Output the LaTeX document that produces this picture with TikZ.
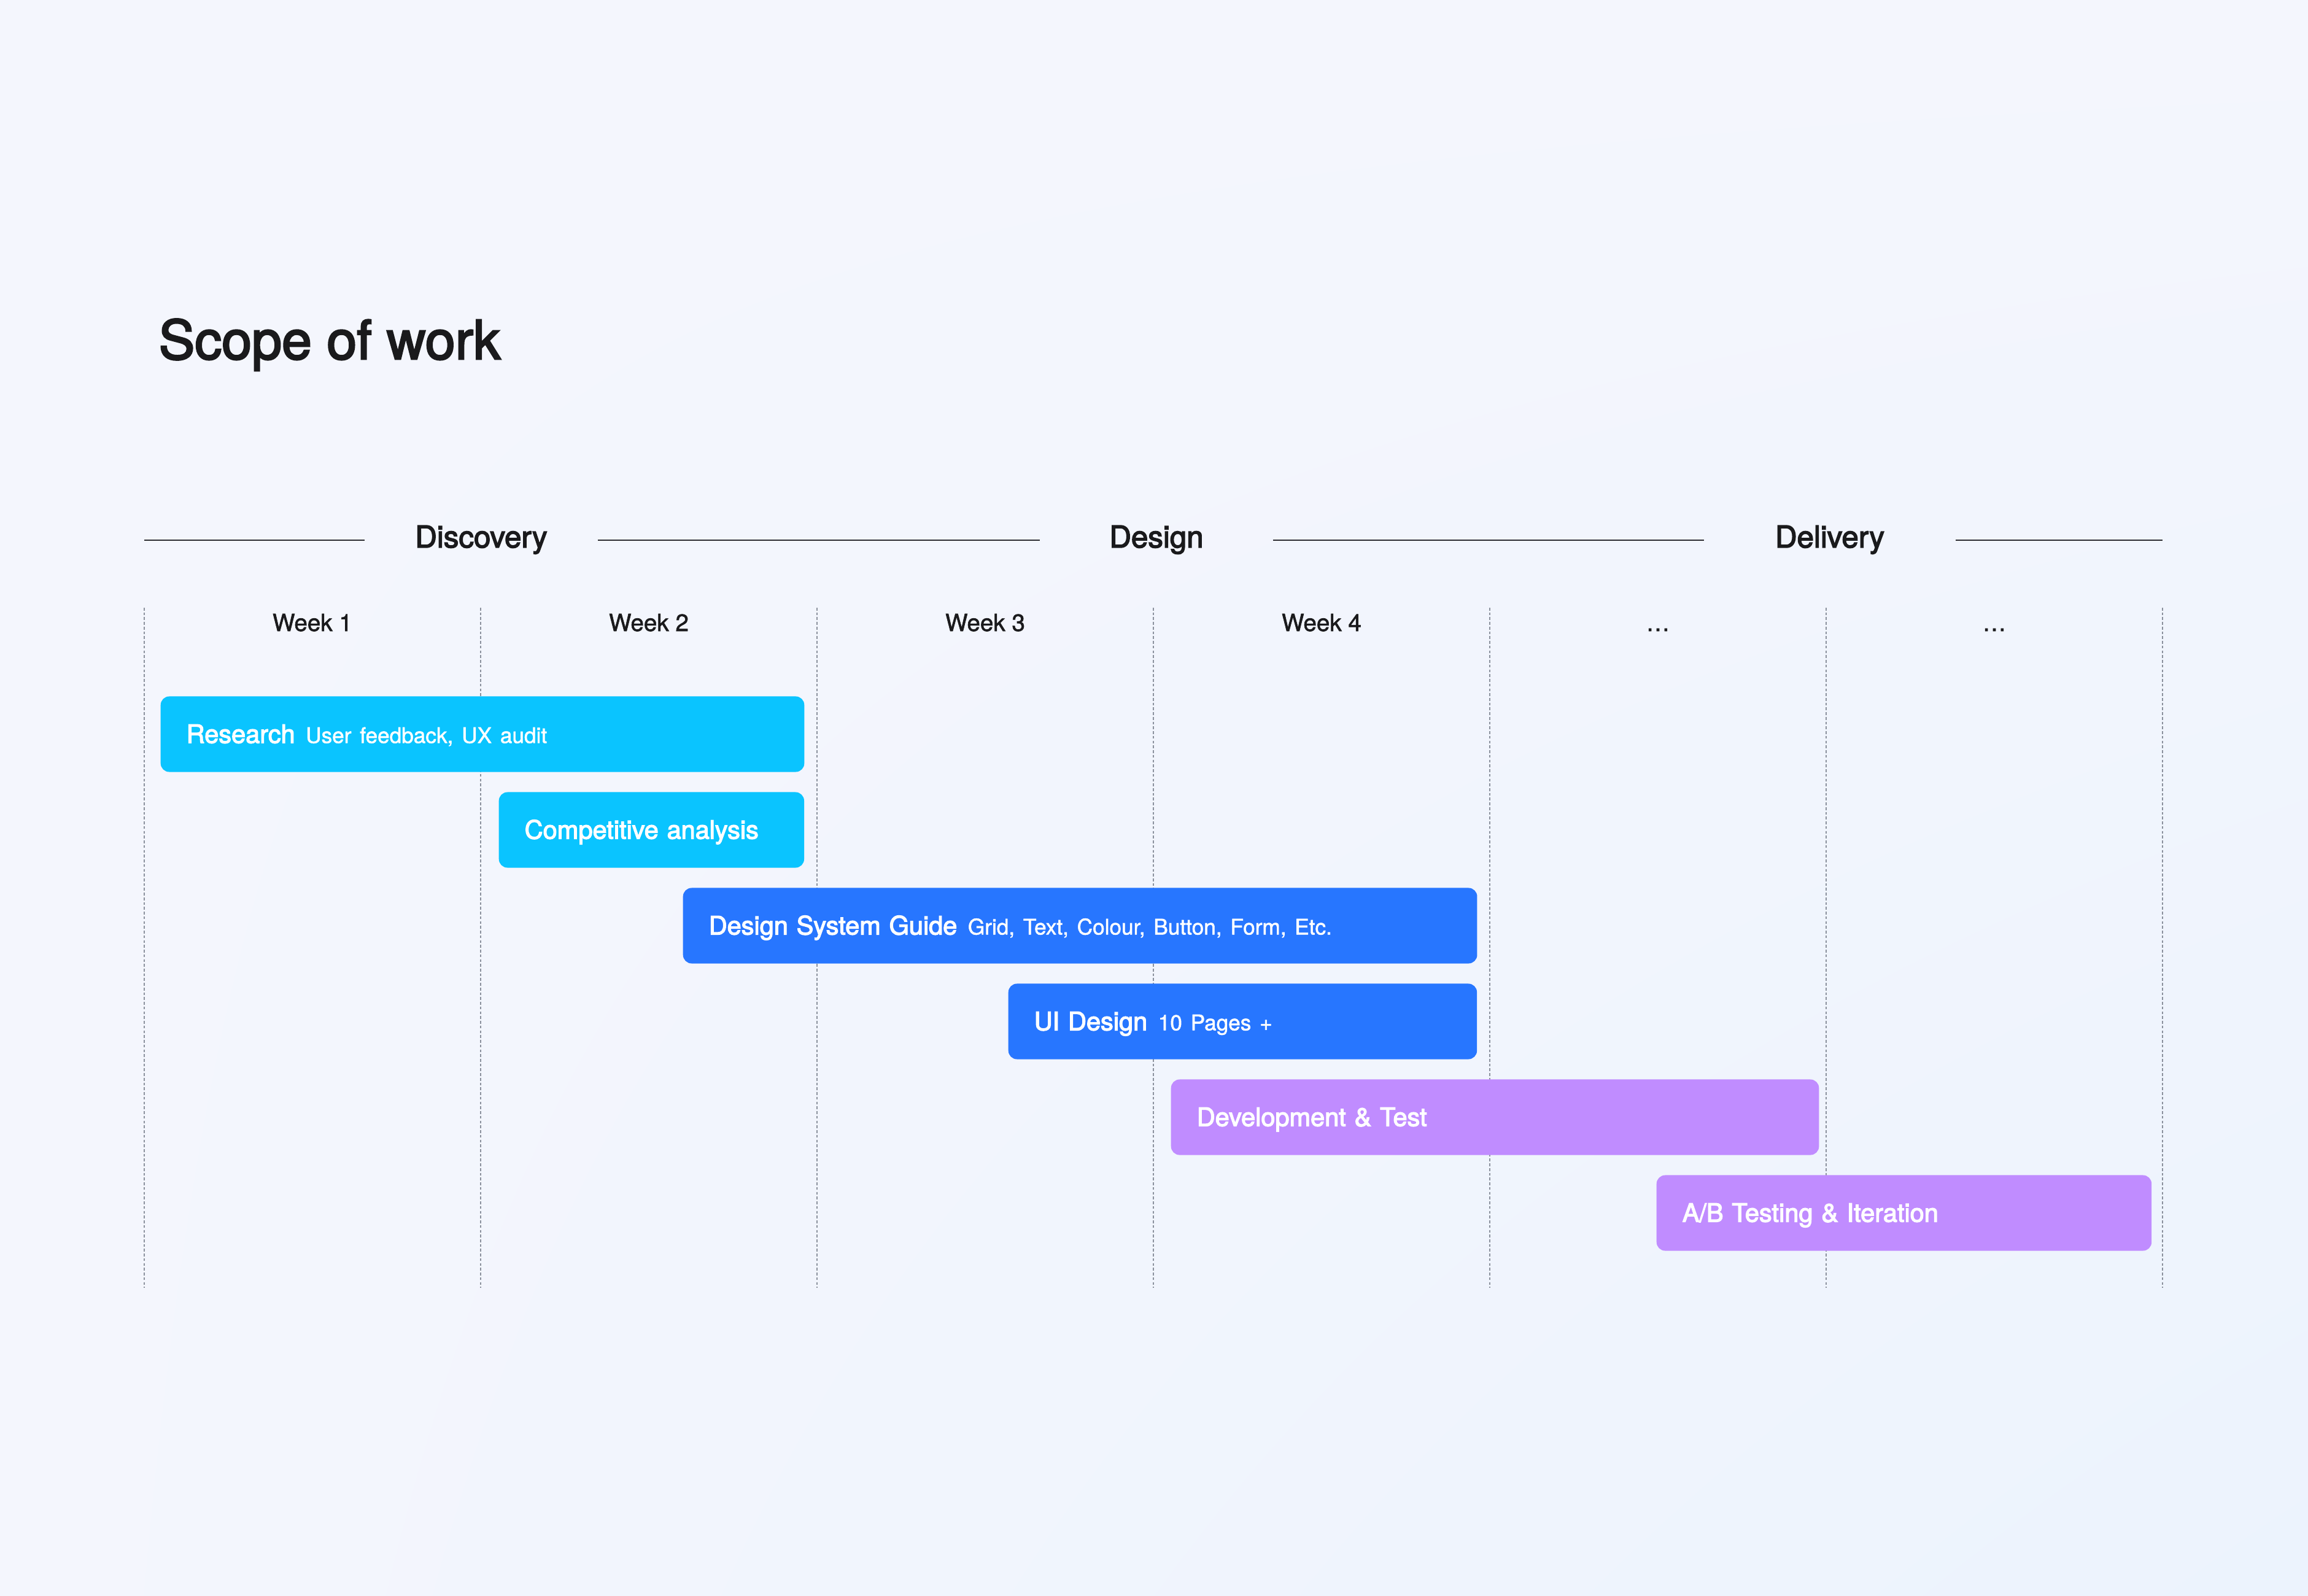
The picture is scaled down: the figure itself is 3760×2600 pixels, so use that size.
\documentclass[tikz,border=0pt]{standalone}
\usepackage{fontspec}
\setmainfont{TeX Gyre Heros}
\newfontfamily\medfont{TeX Gyre Heros}[FakeBold=3]
\newfontfamily\lightmed{TeX Gyre Heros}[FakeBold=1.5]
\usetikzlibrary{positioning,shadings}
\definecolor{bgtop}{RGB}{244,246,253}
\definecolor{bgbottom}{RGB}{236,243,253}
\definecolor{inktext}{RGB}{26,26,28}
\definecolor{rulegray}{RGB}{45,45,50}
\definecolor{gridgray}{RGB}{140,146,158}
\definecolor{cyanbar}{RGB}{10,196,255}
\definecolor{bluebar}{RGB}{39,118,255}
\definecolor{purplebar}{RGB}{192,140,255}
\newcommand{\barnote}[1]{\hspace{5pt}{\fontsize{10}{12}\selectfont\lightmed #1}}

\begin{document}
\begin{tikzpicture}[x=0.01cm, y=-0.01cm,
  phase/.style={text=inktext, font=\fontsize{14}{16}\selectfont\medfont, inner sep=0pt,
    minimum width=3.78cm, text height=9.8pt, text depth=3pt},
  week/.style={text=inktext, font=\fontsize{11}{13}\selectfont\lightmed, anchor=base, inner sep=0pt},
  gridline/.style={gridgray, line width=0.7pt, dash pattern=on 1.3pt off 0.9pt},
  phaseline/.style={rulegray, line width=0.6pt},
  bar/.style={anchor=west, minimum height=1.23cm, inner xsep=0.42cm, inner ysep=0pt,
    rounded corners=4pt, align=left, text=white, text height=8.2pt, text depth=0pt,
    font=\fontsize{11.8}{14}\selectfont\medfont}]

  % Background
  \useasboundingbox (0,0) rectangle (3760,2600);
  \shade[upper left=bgtop, upper right=bgtop, lower left=bgtop, lower right=bgbottom]
    (0,0) rectangle (3760,2600);

  % Title
  \node[anchor=base west, inner sep=0pt, text=inktext, font=\fontsize{25}{29}\selectfont\medfont]
    (title) at (258,585) {Scope of work};

  % Phases
  \coordinate (lstart) at (235,880);
  \coordinate (lend) at (3523,880);
  \node[phase] (discovery) at (784,880) {Discovery};
  \node[phase] (design) at (1884,880) {Design};
  \node[phase, minimum width=4.09cm] (delivery) at (2981,880) {Delivery};
  \draw[phaseline] (lstart) -- (discovery.west);
  \draw[phaseline] (discovery.east) -- (design.west);
  \draw[phaseline] (design.east) -- (delivery.west);
  \draw[phaseline] (delivery.east) -- (lend);

  % Week columns
  \foreach \i in {0,...,6} {
    \coordinate (top\i) at (235+548*\i,990);
    \coordinate (bot\i) at (235+548*\i,2098);
    \draw[gridline] (top\i) -- (bot\i);
  }
  \foreach \i/\wk in {0/Week 1,1/Week 2,2/Week 3,3/Week 4,4/\ldots,5/\ldots}
    \node[week] (week\i) at (509+548*\i,1028) {\wk};

  % Tasks
  \node[bar, fill=cyanbar, text width=9.64cm] (research) at (261,1196)
    {Research\barnote{User feedback, UX audit}};
  \node[bar, fill=cyanbar, text width=4.13cm] (competitive) at (812,1352)
    {Competitive analysis};
  \node[bar, fill=bluebar, text width=12.09cm] (dsguide) at (1112,1508)
    {Design System Guide\barnote{Grid, Text, Colour, Button, Form, Etc.}};
  \node[bar, fill=bluebar, text width=6.79cm] (uidesign) at (1642,1664)
    {UI Design\barnote{10 Pages +}};
  \node[bar, fill=purplebar, text width=9.71cm] (devtest) at (1907,1820)
    {Development \& Test};
  \node[bar, fill=purplebar, text width=7.22cm] (abtest) at (2698,1976)
    {A/B Testing \& Iteration};
\end{tikzpicture}
\end{document}
